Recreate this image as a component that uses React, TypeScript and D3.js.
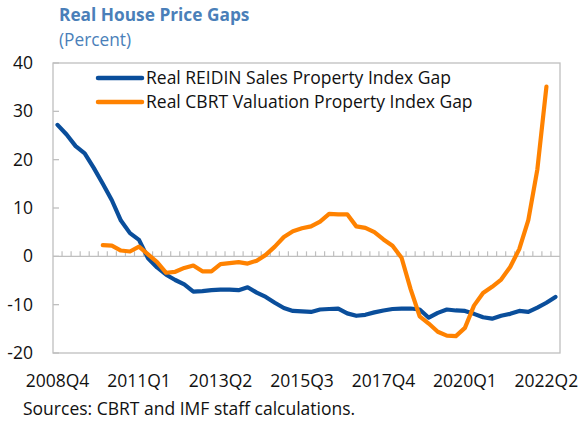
import React from "react";
import * as d3 from "d3";

const startYear = 2008;
const startQ = 4;
const nQuarters = 56;
const quarters: string[] = [];
for (let i = 0; i < nQuarters; i++) {
  const q = startQ - 1 + i;
  quarters.push(`${startYear + Math.floor(q / 4)}Q${(q % 4) + 1}`);
}

const tickLabels = ["2008Q4", "2011Q1", "2013Q2", "2015Q3", "2017Q4", "2020Q1", "2022Q2"];
const yTicks = [-20, -10, 0, 10, 20, 30, 40];

const reidinGap: (number | null)[] = [
  27.2, 25.2, 22.8, 21.3, 18.3, 15.0, 11.6, 7.4, 4.8, 3.4,
  -0.4, -2.3, -3.8, -4.9, -5.8, -7.3, -7.2, -7.0, -6.9, -6.9,
  -7.0, -6.4, -7.5, -8.4, -9.6, -10.7, -11.3, -11.4, -11.5, -11.0,
  -10.9, -10.8, -11.8, -12.3, -12.1, -11.6, -11.2, -10.9, -10.8, -10.8,
  -11.0, -12.7, -11.7, -11.0, -11.2, -11.3, -11.9, -12.6, -12.9, -12.3,
  -11.9, -11.3, -11.5, -10.6, -9.6, -8.4,
];

const cbrtGap: (number | null)[] = [
  null, null, null, null, null, 2.3, 2.2, 1.2, 1.0, 2.0,
  0.4, -1.2, -3.4, -3.2, -2.4, -1.9, -3.1, -3.1, -1.6, -1.4,
  -1.2, -1.5, -0.9, 0.3, 2.0, 4.0, 5.2, 5.8, 6.2, 7.2,
  8.8, 8.7, 8.7, 6.2, 5.9, 5.0, 3.5, 2.2, -0.3, -6.8,
  -12.4, -13.9, -15.6, -16.4, -16.5, -14.8, -10.2, -7.6, -6.3, -4.8,
  -2.2, 1.5, 7.5, 18.0, 35.1, null,
];

const seriesNames = ["Real REIDIN Sales Property Index Gap", "Real CBRT Valuation Property Index Gap"];
const seriesColors = ["#0a4e9b", "#ff8200"];

const W = 579, H = 423;
const L = 53, R = 560, T = 63, B = 353;
const FONT = "'Open Sans', 'Noto Sans', sans-serif";
const AXIS = "#bfbfbf";
const FS = 17.5;

export default function App() {
  const x = d3.scaleBand<string>().domain(quarters).range([L, R]).paddingInner(0).paddingOuter(0);
  const y = d3.scaleLinear().domain([-20, 40]).range([B, T]);
  const cx = (i: number) => (x(quarters[i]) as number) + x.bandwidth() / 2;

  const line = d3
    .line<number | null>()
    .defined((d) => d !== null)
    .x((_, i) => cx(i))
    .y((d) => y(d as number));

  const series = [reidinGap, cbrtGap];

  return (
    <svg width={W} height={H} style={{ position: "absolute", left: 0, top: 0, background: "#fff" }} fontFamily={FONT}>
      <text x={59} y={21} fontSize={17.3} fontWeight={700} fill="#4a7fb9">Real House Price Gaps</text>
      <text x={59} y={46} fontSize={17.3} fill="#4a7fb9">(Percent)</text>

      {/* frame */}
      <rect x={L} y={T} width={R - L} height={B - T} fill="none" stroke={AXIS} strokeWidth={1.3} />
      {/* y ticks */}
      {yTicks.map((t) => (
        <g key={t}>
          <line x1={L} x2={L + 6} y1={y(t)} y2={y(t)} stroke={AXIS} strokeWidth={1.3} />
          <text x={33} y={y(t) + 6} textAnchor="end" fontSize={FS} fill="#111">{t}</text>
        </g>
      ))}
      {/* zero line with quarterly ticks */}
      <line x1={L} x2={R} y1={y(0)} y2={y(0)} stroke={AXIS} strokeWidth={1.3} />
      {quarters.slice(1).map((q) => (
        <line key={q} x1={x(q) as number} x2={x(q) as number} y1={y(0)} y2={y(0) - 5} stroke={AXIS} strokeWidth={1.2} />
      ))}
      {/* x labels */}
      {tickLabels.map((lab) => (
        <text key={lab} x={(x(lab) as number) + x.bandwidth() / 2} y={387} textAnchor="middle" fontSize={FS} fill="#111">{lab}</text>
      ))}

      {/* lines */}
      {series.map((s, k) => (
        <path key={k} d={line(s) || ""} fill="none" stroke={seriesColors[k]} strokeWidth={4.2} strokeLinejoin="round" strokeLinecap="round" />
      ))}

      {/* legend */}
      {seriesNames.map((n, k) => (
        <g key={n}>
          <line x1={98} x2={142} y1={78 + k * 24} y2={78 + k * 24} stroke={seriesColors[k]} strokeWidth={4.5} strokeLinecap="round" />
          <text x={146} y={84 + k * 24} fontSize={FS} fill="#111">{n}</text>
        </g>
      ))}

      <text x={23} y={415} fontSize={FS} fill="#111">Sources: CBRT and IMF staff calculations.</text>
    </svg>
  );
}
